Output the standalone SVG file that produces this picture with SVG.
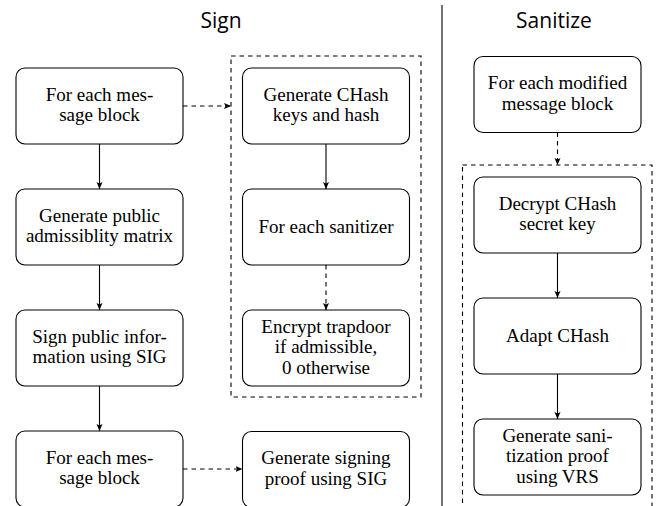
<svg xmlns="http://www.w3.org/2000/svg" width="656" height="506" viewBox="0 0 656 506">
<defs>
<style>
.box{fill:#fff;stroke:#000;stroke-width:1.1}
.t{font-family:'Liberation Serif','Times New Roman',serif;font-size:19px;text-anchor:middle;fill:#000}
.title{font-family:'Open Sans','Liberation Sans',sans-serif;font-size:21px;text-anchor:middle;fill:#000}
.c{fill:none;stroke:#000;stroke-width:1.1}
.d{stroke-dasharray:4.5 4}
.grp{fill:none;stroke:#000;stroke-width:1.1;stroke-dasharray:4.5 4}
</style>
<marker id="ah" markerWidth="8" markerHeight="8" viewBox="0 0 8 8" refX="7" refY="4" orient="auto" markerUnits="userSpaceOnUse">
<path d="M0,1 L7,4 L0,7 L1.5,4 Z" fill="#000"/>
</marker>
</defs>
<rect width="656" height="506" fill="#fff"/>
<text class="title" x="221" y="28">Sign</text>
<text class="title" x="554" y="28">Sanitize</text>
<line x1="442" y1="5" x2="442" y2="506" stroke="#000" stroke-width="1.1"/>
<rect id="group-sign" class="grp" x="231" y="56" width="190" height="341"/>
<rect id="group-sanitize" class="grp" x="462.5" y="165" width="189.5" height="345"/>
<g id="n1"><rect class="box" x="16" y="68" width="167" height="76" rx="9"/><text class="t" x="99.5" y="100.5">For each mes-</text><text class="t" x="99.5" y="121">sage block</text></g>
<g id="n2"><rect class="box" x="16" y="189" width="167" height="76" rx="9"/><text class="t" x="99.5" y="221.5">Generate public</text><text class="t" x="99.5" y="242">admissiblity matrix</text></g>
<g id="n3"><rect class="box" x="16" y="310" width="167" height="76" rx="9"/><text class="t" x="99.5" y="342.5">Sign public infor-</text><text class="t" x="99.5" y="363">mation using SIG</text></g>
<g id="n4"><rect class="box" x="16" y="431" width="167" height="76" rx="9"/><text class="t" x="99.5" y="463.5">For each mes-</text><text class="t" x="99.5" y="484">sage block</text></g>
<g id="m1"><rect class="box" x="242.5" y="68" width="167" height="76" rx="9"/><text class="t" x="326" y="100.5">Generate CHash</text><text class="t" x="326" y="121">keys and hash</text></g>
<g id="m2"><rect class="box" x="242.5" y="189" width="167" height="76" rx="9"/><text class="t" x="326" y="232.5">For each sanitizer</text></g>
<g id="m3"><rect class="box" x="242.5" y="310" width="167" height="76" rx="9"/><text class="t" x="326" y="332.5">Encrypt trapdoor</text><text class="t" x="326" y="353">if admissible,</text><text class="t" x="326" y="373.5">0 otherwise</text></g>
<g id="m4"><rect class="box" x="242.5" y="431.5" width="167" height="76" rx="9"/><text class="t" x="326" y="464">Generate signing</text><text class="t" x="326" y="484.5">proof using SIG</text></g>
<g id="s1"><rect class="box" x="474" y="56.5" width="167" height="76" rx="9"/><text class="t" x="557.5" y="89">For each modified</text><text class="t" x="557.5" y="109.5">message block</text></g>
<g id="s2"><rect class="box" x="474" y="177" width="167" height="76" rx="9"/><text class="t" x="557.5" y="209.5">Decrypt CHash</text><text class="t" x="557.5" y="230">secret key</text></g>
<g id="s3"><rect class="box" x="474" y="298" width="167" height="76" rx="9"/><text class="t" x="557.5" y="341.5">Adapt CHash</text></g>
<g id="s4"><rect class="box" x="474" y="419" width="167" height="76" rx="9"/><text class="t" x="557.5" y="441.5">Generate sani-</text><text class="t" x="557.5" y="462">tization proof</text><text class="t" x="557.5" y="482.5">using VRS</text></g>
<g id="connectors">
<line class="c" x1="99.5" y1="144" x2="99.5" y2="189" marker-end="url(#ah)"/>
<line class="c" x1="99.5" y1="265" x2="99.5" y2="310" marker-end="url(#ah)"/>
<line class="c" x1="99.5" y1="386" x2="99.5" y2="431" marker-end="url(#ah)"/>
<line class="c d" x1="183" y1="106" x2="231" y2="106" marker-end="url(#ah)"/>
<line class="c d" x1="183" y1="469" x2="242.5" y2="469" marker-end="url(#ah)"/>
<line class="c" x1="326" y1="144" x2="326" y2="189" marker-end="url(#ah)"/>
<line class="c d" x1="326" y1="265" x2="326" y2="310" marker-end="url(#ah)"/>
<line class="c d" x1="557.5" y1="132.5" x2="557.5" y2="165" marker-end="url(#ah)"/>
<line class="c" x1="557.5" y1="253" x2="557.5" y2="298" marker-end="url(#ah)"/>
<line class="c" x1="557.5" y1="374" x2="557.5" y2="419" marker-end="url(#ah)"/>
</g>
</svg>
